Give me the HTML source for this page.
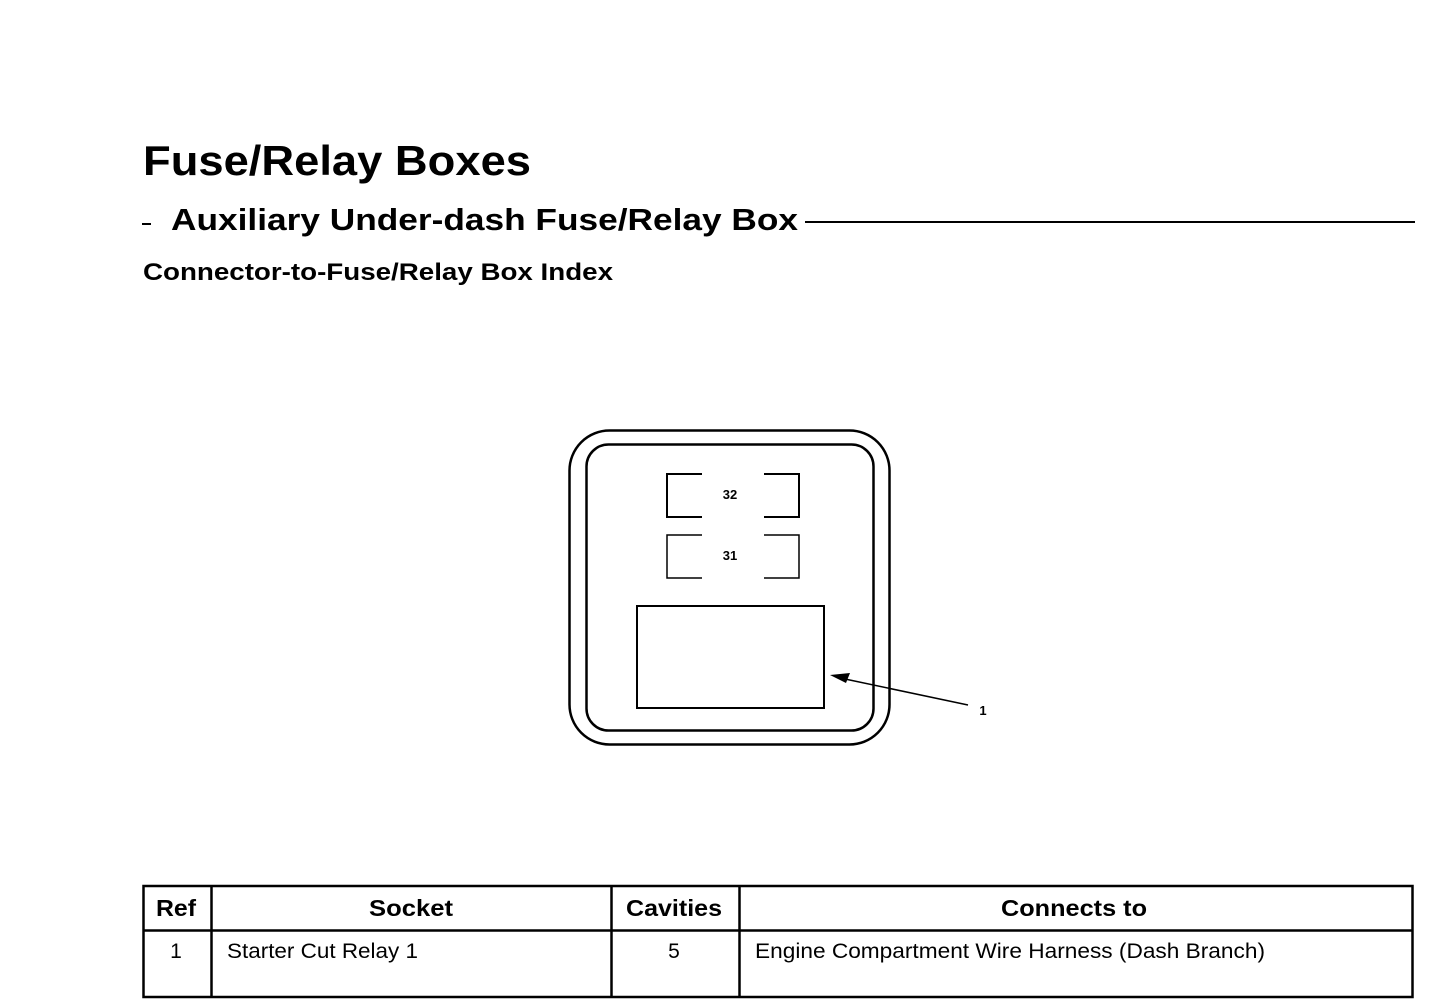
<!DOCTYPE html>
<html><head><style>html,body{margin:0;padding:0;background:#fff;}svg{display:block}</style></head>
<body>
<svg width="1440" height="1008" viewBox="0 0 1440 1008" xmlns="http://www.w3.org/2000/svg" font-family="Liberation Sans, sans-serif" font-weight="bold">
<text x="143" y="175" font-size="42" textLength="388" lengthAdjust="spacingAndGlyphs">Fuse/Relay Boxes</text>
<line x1="142" y1="224" x2="151" y2="224" stroke="#000" stroke-width="2"/>
<text x="171" y="230" font-size="31" textLength="627" lengthAdjust="spacingAndGlyphs">Auxiliary Under-dash Fuse/Relay Box</text>
<line x1="805" y1="222" x2="1415" y2="222" stroke="#000" stroke-width="2"/>
<text x="143" y="280" font-size="24" textLength="470" lengthAdjust="spacingAndGlyphs">Connector-to-Fuse/Relay Box Index</text>

<g fill="none" stroke="#000">
<rect x="569.5" y="430.5" width="320" height="314" rx="40" stroke-width="2.5"/>
<rect x="586.5" y="444.5" width="287" height="286" rx="22" stroke-width="2.5"/>
<polyline points="702,474 667,474 667,517 702,517" stroke-width="2"/>
<polyline points="764,474 799,474 799,517 764,517" stroke-width="2"/>
<polyline points="702,535 667,535 667,578 702,578" stroke-width="1.5"/>
<polyline points="764,535 799,535 799,578 764,578" stroke-width="1.5"/>
<rect x="637" y="606" width="187" height="102" stroke-width="2"/>
<line x1="968" y1="705" x2="845" y2="679" stroke-width="1.5"/>
</g>
<polygon points="830,675 850,673 846,683" fill="#000"/>
<text x="730" y="499" font-size="13" text-anchor="middle">32</text>
<text x="730" y="560" font-size="13" text-anchor="middle">31</text>
<text x="983" y="715" font-size="13" text-anchor="middle">1</text>

<g fill="none" stroke="#000" stroke-width="2.5">
<rect x="143.5" y="886" width="1269" height="111"/>
<line x1="143" y1="930.5" x2="1413" y2="930.5"/>
<line x1="211.5" y1="886" x2="211.5" y2="997"/>
<line x1="611.5" y1="886" x2="611.5" y2="997"/>
<line x1="739.5" y1="886" x2="739.5" y2="997"/>
</g>
<g font-size="23" text-anchor="middle">
<text x="176" y="916" textLength="40" lengthAdjust="spacingAndGlyphs">Ref</text>
<text x="411" y="916" textLength="84" lengthAdjust="spacingAndGlyphs">Socket</text>
<text x="674" y="916" textLength="96" lengthAdjust="spacingAndGlyphs">Cavities</text>
<text x="1074" y="916" textLength="146" lengthAdjust="spacingAndGlyphs">Connects to</text>
</g>
<g font-size="21" font-weight="normal">
<text x="176" y="958" text-anchor="middle">1</text>
<text x="227" y="958" textLength="191" lengthAdjust="spacingAndGlyphs">Starter Cut Relay 1</text>
<text x="674" y="958" text-anchor="middle">5</text>
<text x="755" y="958" textLength="510" lengthAdjust="spacingAndGlyphs">Engine Compartment Wire Harness (Dash Branch)</text>
</g>
</svg>
</body></html>
